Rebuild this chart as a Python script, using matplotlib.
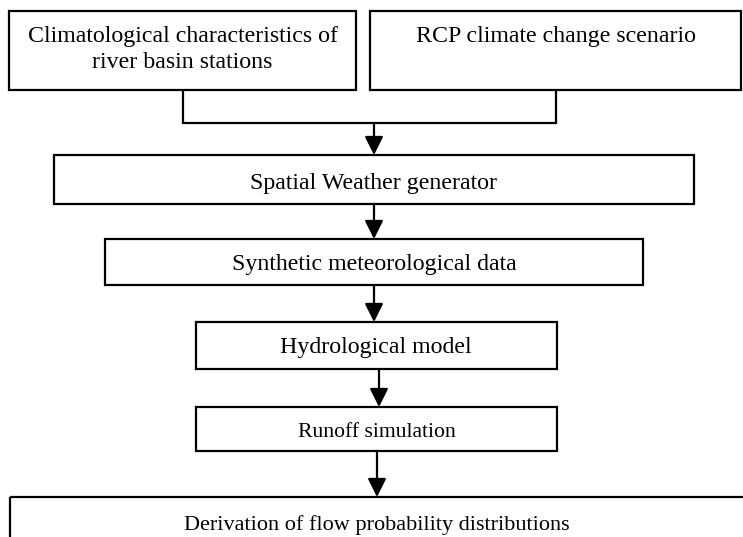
import matplotlib
matplotlib.use("Agg")
import matplotlib.pyplot as plt
from matplotlib.patches import Rectangle

plt.rcParams['font.family'] = ['Liberation Serif', 'DejaVu Serif']

# box texts, top to bottom
top_labels = [["Climatological characteristics of", "river basin stations"],
              ["RCP climate change scenario"]]
step_labels = ["Spatial Weather generator",
               "Synthetic meteorological data",
               "Hydrological model",
               "Runoff simulation",
               "Derivation of flow probability distributions"]

# layout in pixel coords: (left, top, right, bottom)
top_boxes = [(9, 11, 356, 90), (370, 11, 741, 90)]
top_baselines = [42, 68]
step_boxes = [(54, 155, 694, 204),
              (105, 239, 643, 285),
              (196, 322, 557, 369),
              (196, 407, 557, 451),
              (10, 497, 780, 570)]
step_baselines = [189, 270, 353, 437, 530]
step_sizes = [17.2, 17.2, 17.2, 15.6, 16]
step_text_x = [374, 374, 376, 377, 377]
arrow_x = [374, 374, 379, 377]
merge_y = 123

LW = 1.6

fig = plt.figure(figsize=(7.43, 5.37), dpi=100)
ax = fig.add_axes([0, 0, 1, 1])
ax.set_xlim(0, 743)
ax.set_ylim(537, 0)
ax.axis('off')


def box(l, t, r, b):
    ax.add_patch(Rectangle((l, t), r - l, b - t, fill=False, lw=LW, ec='black'))


def arrow(x, y0, y1):
    ax.annotate("", xy=(x, y1), xytext=(x, y0),
                arrowprops=dict(arrowstyle='-|>', mutation_scale=28, lw=LW,
                                color='black', shrinkA=0, shrinkB=0))


for (l, t, r, b), lines in zip(top_boxes, top_labels):
    box(l, t, r, b)
    cx = (l + r) / 2
    for line, yb in zip(lines, top_baselines):
        ax.text(cx, yb, line, ha='center', va='baseline', fontsize=17.2)
    # drop line to merge level
    ax.plot([cx, cx], [b, merge_y], color='black', lw=LW, solid_capstyle='butt')

cxs = [(l + r) / 2 for l, t, r, b in top_boxes]
ax.plot([cxs[0], cxs[1]], [merge_y, merge_y], color='black', lw=LW,
        solid_capstyle='projecting')
arrow(arrow_x[0], merge_y, step_boxes[0][1])

for i, ((l, t, r, b), lab) in enumerate(zip(step_boxes, step_labels)):
    box(l, t, r, b)
    ax.text(step_text_x[i], step_baselines[i], lab, ha='center', va='baseline',
            fontsize=step_sizes[i])
    if i < len(step_boxes) - 1:
        arrow(arrow_x[i], b, step_boxes[i + 1][1])

fig.savefig("out.png", dpi=100)
